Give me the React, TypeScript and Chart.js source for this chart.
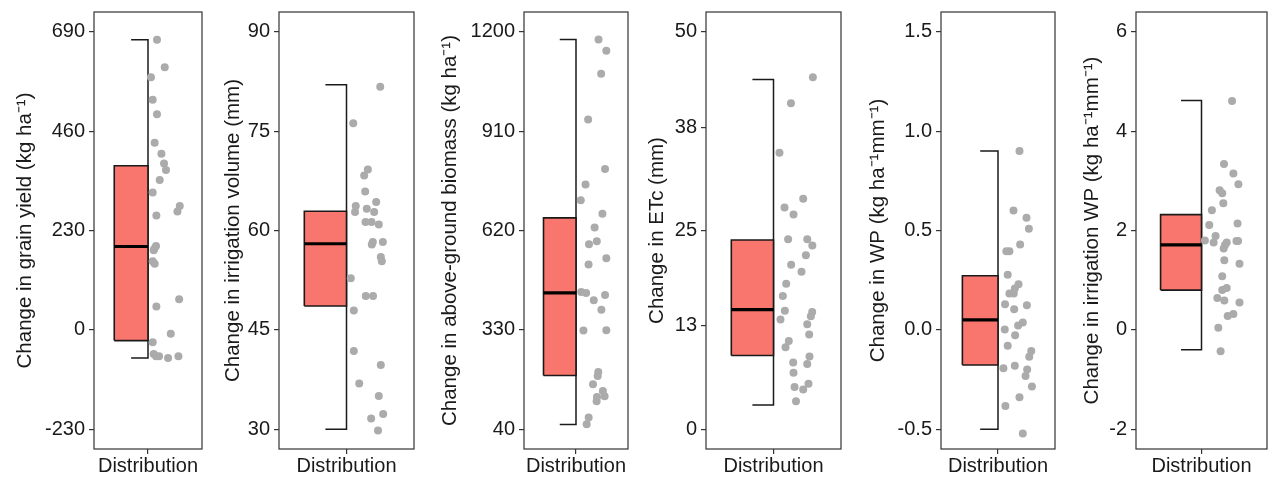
import React, { useEffect, useRef } from 'react';
import { Chart, registerables } from 'chart.js';

Chart.register(...registerables);

const category = 'Distribution';

// Panel 1: grain yield
const yieldTitle = 'Change in grain yield (kg ha⁻¹)';
const yieldTicks = [-230, 0, 230, 460, 690];
const yieldTickLabels = ['-230', '0', '230', '460', '690'];
const yieldBox = [-65, -25, 193, 380, 672]; // lower whisker, Q1, median, Q3, upper whisker
const yieldValues = [672, 608, 585, 533, 499, 433, 408, 385, 370, 347, 318, 287, 274, 265, 194, 188, 184, 159, 153, 71, 54, -9, -29, -56, -61, -61, -65, -61];
const yieldJitter = [0.1, 0.186, 0.033, 0.052, 0.1, 0.074, 0.149, 0.178, 0.2, 0.13, 0.052, 0.353, 0.327, 0.093, 0.089, 0.071, 0.063, 0.052, 0.074, 0.346, 0.093, 0.253, 0.052, 0.063, 0.089, 0.123, 0.223, 0.338];

// Panel 2: irrigation volume
const irrTitle = 'Change in irrigation volume (mm)';
const irrTicks = [30, 45, 60, 75, 90];
const irrTickLabels = ['30', '45', '60', '75', '90'];
const irrBox = [30.0, 48.6, 58.0, 62.9, 82.0];
const irrValues = [81.7, 76.2, 69.2, 68.3, 65.9, 64.3, 63.7, 62.8, 63.3, 62.8, 61.3, 61.3, 60.9, 58.25, 57.9, 58.25, 56.0, 55.35, 52.8, 50.1, 50.1, 47.9, 41.8, 39.7, 36.9, 35.0, 32.3, 31.6, 29.8];
const irrJitter = [0.3, 0.06, 0.19, 0.157, 0.166, 0.264, 0.082, 0.076, 0.18, 0.246, 0.169, 0.222, 0.287, 0.234, 0.225, 0.323, 0.305, 0.314, 0.038, 0.171, 0.236, 0.065, 0.065, 0.305, 0.113, 0.287, 0.326, 0.219, 0.28];

// Panel 3: above-ground biomass
const bioTitle = 'Change in above-ground biomass (kg ha⁻¹)';
const bioTicks = [40, 330, 620, 910, 1200];
const bioTickLabels = ['40', '330', '620', '910', '1200'];
const bioBox = [53.7, 196.5, 438, 657, 1177.6];
const bioValues = [1177.6, 1144.6, 1077.6, 944.4, 799.8, 754, 708.4, 668.7, 628.7, 580, 588.8, 539.3, 521, 440.2, 437.3, 431.4, 416, 388.9, 327.7, 328.5, 207, 195.3, 171.2, 151.6, 136.2, 134.1, 121.6, 74.1, 54.6];
const bioJitter = [0.26, 0.35, 0.29, 0.14, 0.335, 0.11, 0.055, 0.305, 0.215, 0.15, 0.24, 0.35, 0.145, 0.06, 0.117, 0.335, 0.205, 0.293, 0.086, 0.35, 0.257, 0.25, 0.196, 0.31, 0.33, 0.242, 0.238, 0.146, 0.123];

// Panel 4: ETc
const etcTitle = 'Change in ETc (mm)';
const etcTicks = [0, 13, 25, 38, 50];
const etcTickLabels = ['0', '13', '25', '38', '50'];
const etcBox = [3.05, 9.27, 15.04, 23.8, 44.0];
const etcValues = [44.3, 41.0, 34.8, 29.0, 27.9, 27.0, 23.9, 23.9, 23.1, 21.9, 20.7, 19.8, 18.3, 16.75, 14.9, 14.75, 14.2, 13.8, 13.2, 11.9, 11.1, 10.3, 9.15, 8.4, 8.2, 7.1, 5.3, 5.0, 5.7, 3.5];
const etcJitter = [0.35, 0.155, 0.053, 0.264, 0.098, 0.178, 0.13, 0.3, 0.345, 0.288, 0.157, 0.249, 0.113, 0.083, 0.101, 0.344, 0.332, 0.062, 0.3, 0.317, 0.136, 0.107, 0.32, 0.175, 0.3, 0.178, 0.187, 0.264, 0.311, 0.2];

// Panel 5: WP
const wpTitle = 'Change in WP (kg ha⁻¹mm⁻¹)';
const wpTicks = [-0.5, 0, 0.5, 1.0, 1.5];
const wpTickLabels = ['-0.5', '0.0', '0.5', '1.0', '1.5'];
const wpBox = [-0.5, -0.177, 0.05, 0.272, 0.9];
const wpValues = [0.9, 0.601, 0.564, 0.509, 0.43, 0.395, 0.395, 0.277, 0.229, 0.208, 0.183, 0.183, 0.129, 0.124, 0.103, 0.037, 0.022, 0.002, -0.027, -0.08, -0.107, -0.136, -0.194, -0.181, -0.2, -0.233, -0.285, -0.339, -0.383, -0.522];
const wpJitter = [0.226, 0.163, 0.3, 0.325, 0.233, 0.088, 0.12, 0.102, 0.216, 0.177, 0.12, 0.166, 0.074, 0.304, 0.17, 0.261, 0.212, 0.071, 0.18, 0.102, 0.35, 0.329, 0.057, 0.177, 0.307, 0.29, 0.357, 0.226, 0.078, 0.261];

// Panel 6: irrigation WP
const iwpTitle = 'Change in irrigation WP (kg ha⁻¹mm⁻¹)';
const iwpTicks = [-2, 0, 2, 4, 6];
const iwpTickLabels = ['-2', '0', '2', '4', '6'];
const iwpBox = [-0.4, 0.8, 1.71, 2.32, 4.62];
const iwpValues = [4.61, 3.34, 3.15, 2.93, 2.81, 2.75, 2.55, 2.41, 2.11, 2.14, 1.89, 1.8, 1.76, 1.71, 1.76, 1.64, 1.79, 1.79, 1.4, 1.33, 1.08, 0.8, 0.84, 0.64, 0.59, 0.55, 0.28, 0.32, 0.04, -0.43];
const iwpJitter = [0.28, 0.206, 0.292, 0.338, 0.166, 0.19, 0.2, 0.095, 0.071, 0.33, 0.129, 0.031, 0.111, 0.215, 0.231, 0.203, 0.32, 0.335, 0.209, 0.348, 0.19, 0.19, 0.231, 0.145, 0.209, 0.348, 0.24, 0.292, 0.154, 0.175];

const panels = [
  { title: yieldTitle, ticks: yieldTicks, tickLabels: yieldTickLabels, box: yieldBox, values: yieldValues, jitter: yieldJitter },
  { title: irrTitle, ticks: irrTicks, tickLabels: irrTickLabels, box: irrBox, values: irrValues, jitter: irrJitter },
  { title: bioTitle, ticks: bioTicks, tickLabels: bioTickLabels, box: bioBox, values: bioValues, jitter: bioJitter },
  { title: etcTitle, ticks: etcTicks, tickLabels: etcTickLabels, box: etcBox, values: etcValues, jitter: etcJitter },
  { title: wpTitle, ticks: wpTicks, tickLabels: wpTickLabels, box: wpBox, values: wpValues, jitter: wpJitter },
  { title: iwpTitle, ticks: iwpTicks, tickLabels: iwpTickLabels, box: iwpBox, values: iwpValues, jitter: iwpJitter },
];

// Layout (pixels): canvas left/right, y-axis width, right padding, title padding
const layouts = [
  { x0: 0, x1: 210, axisW: 94, padR: 8, titlePad: 13 },
  { x0: 210, x1: 425, axisW: 69, padR: 11, titlePad: 11 },
  { x0: 425, x1: 640, axisW: 99, padR: 12, titlePad: 13 },
  { x0: 640, x1: 855, axisW: 66, padR: 14, titlePad: 5 },
  { x0: 855, x1: 1070, axisW: 86, padR: 15, titlePad: 11 },
  { x0: 1070, x1: 1277, axisW: 66, padR: 10, titlePad: 10 },
];

const HEIGHT = 477;
const FONT = "'Liberation Sans', Arial, Helvetica, sans-serif";
const TEXT = '#1a1a1a';

const framePlugin = {
  id: 'panelFrame',
  afterDatasetsDraw(chart: any) {
    const { ctx, chartArea } = chart;
    ctx.save();
    ctx.strokeStyle = '#333333';
    ctx.lineWidth = 1.2;
    ctx.strokeRect(chartArea.left, chartArea.top, chartArea.right - chartArea.left, chartArea.bottom - chartArea.top);
    ctx.restore();
  },
};

function buildChart(canvas: HTMLCanvasElement, p: any, L: any) {
  const boxW = 0.375;
  const capW = boxW / 2;
  const [lo, q1, med, q3, hi] = p.box;
  const t0 = p.ticks[0];
  const t1 = p.ticks[p.ticks.length - 1];
  const span = t1 - t0;
  return new Chart(canvas, {
    type: 'scatter',
    data: {
      datasets: [
        {
          type: 'scatter',
          data: p.values.map((v: number, i: number) => ({ x: 1 + p.jitter[i], y: v })),
          pointRadius: 4,
          pointHoverRadius: 4,
          backgroundColor: '#ABABAB',
          borderWidth: 0,
          order: 0,
        },
        {
          type: 'line',
          data: [{ x: 1 - boxW, y: med }, { x: 1, y: med }],
          borderColor: '#000000',
          borderWidth: 3.2,
          pointRadius: 0,
          fill: false,
          borderCapStyle: 'butt',
          order: 1,
        },
        {
          type: 'line',
          data: [
            { x: 1 - boxW, y: q1 },
            { x: 1, y: q1 },
            { x: 1, y: q3 },
            { x: 1 - boxW, y: q3 },
            { x: 1 - boxW, y: q1 },
          ],
          borderColor: '#1a1a1a',
          borderWidth: 1.6,
          backgroundColor: '#F8766D',
          fill: 'shape',
          pointRadius: 0,
          borderJoinStyle: 'miter',
          tension: 0,
          order: 2,
        },
        {
          type: 'line',
          data: [
            { x: 1 - capW, y: hi },
            { x: 1, y: hi },
            { x: 1, y: lo },
            { x: 1 - capW, y: lo },
          ],
          borderColor: '#1a1a1a',
          borderWidth: 1.5,
          pointRadius: 0,
          fill: false,
          borderJoinStyle: 'miter',
          tension: 0,
          order: 3,
        },
      ],
    } as any,
    options: {
      animation: false,
      responsive: false,
      maintainAspectRatio: false,
      events: [],
      layout: { padding: { left: 0, right: L.padR, top: 12, bottom: 0 } },
      plugins: { legend: { display: false }, tooltip: { enabled: false } },
      scales: {
        x: {
          type: 'linear',
          min: 0.4,
          max: 1.6,
          afterBuildTicks: (s: any) => {
            s.ticks = [{ value: 1 }];
          },
          afterFit: (s: any) => {
            s.height = 28;
            s.paddingLeft = 0;
            s.paddingRight = 0;
          },
          ticks: {
            callback: () => category,
            color: TEXT,
            font: { family: FONT, size: 20 },
            padding: 0,
            maxRotation: 0,
            autoSkip: false,
          },
          grid: { drawOnChartArea: false, drawTicks: true, tickLength: 5, color: '#333333', lineWidth: 1.2 },
          border: { display: false },
        },
        y: {
          type: 'linear',
          min: t0 - 0.05 * span,
          max: t1 + 0.05 * span,
          afterBuildTicks: (s: any) => {
            s.ticks = p.ticks.map((v: number) => ({ value: v }));
          },
          afterFit: (s: any) => {
            s.width = L.axisW;
            s.paddingTop = 0;
            s.paddingBottom = 0;
          },
          ticks: {
            callback: (_v: any, i: number) => p.tickLabels[i],
            color: TEXT,
            font: { family: FONT, size: 20 },
            padding: 4,
            autoSkip: false,
          },
          grid: { drawOnChartArea: false, drawTicks: true, tickLength: 5, color: '#333333', lineWidth: 1.2 },
          border: { display: false },
          title: {
            display: true,
            text: p.title,
            color: TEXT,
            font: { family: FONT, size: 20.5 },
            padding: { top: L.titlePad, bottom: 0 },
          },
        },
      },
    } as any,
    plugins: [framePlugin],
  });
}

export default function App() {
  const refs = useRef<(HTMLCanvasElement | null)[]>([]);
  useEffect(() => {
    const charts = panels.map((p, i) => buildChart(refs.current[i] as HTMLCanvasElement, p, layouts[i]));
    return () => charts.forEach((c) => c.destroy());
  }, []);
  return (
    <div style={{ position: 'fixed', left: 0, top: 0, width: 1277, height: HEIGHT, background: '#ffffff' }}>
      {layouts.map((L, i) => (
        <canvas
          key={i}
          ref={(el) => {
            refs.current[i] = el;
          }}
          width={L.x1 - L.x0}
          height={HEIGHT}
          style={{ position: 'absolute', left: L.x0, top: 0, width: L.x1 - L.x0, height: HEIGHT }}
        />
      ))}
    </div>
  );
}
